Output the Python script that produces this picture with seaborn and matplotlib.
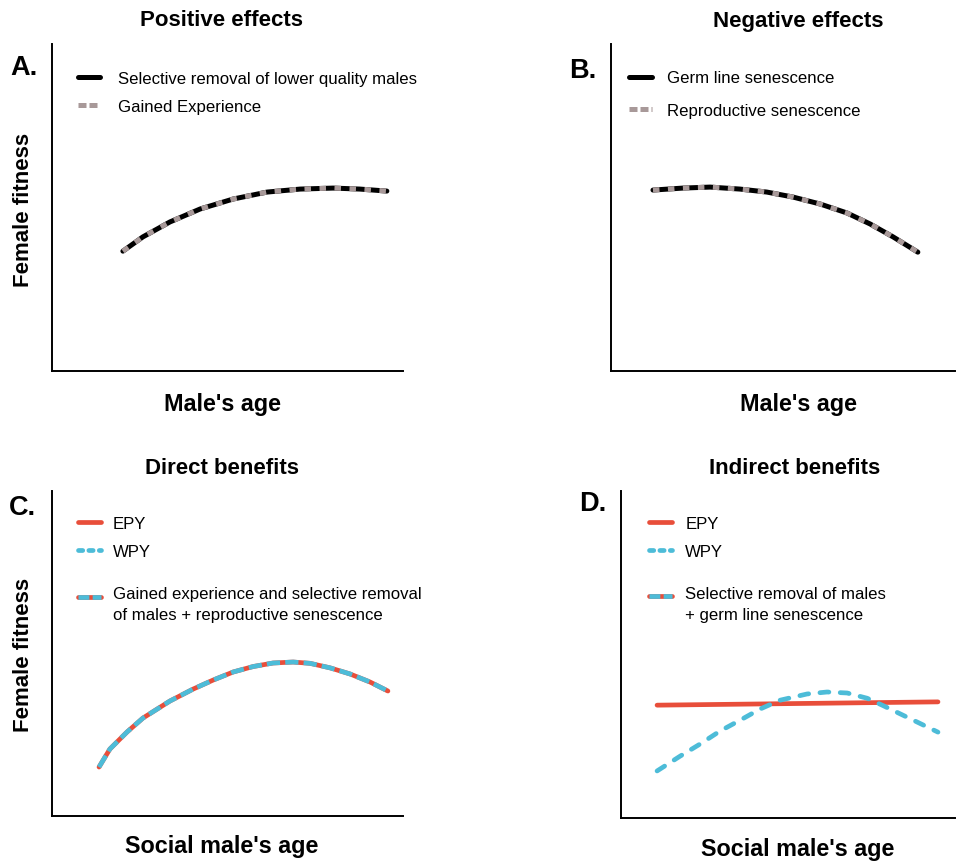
import matplotlib
matplotlib.use("Agg")
import matplotlib.pyplot as plt
import seaborn as sns
import pandas as pd
from matplotlib.lines import Line2D
from matplotlib.legend_handler import HandlerTuple

sns.set_theme(style="white")
plt.rcParams['font.family'] = ['Liberation Sans', 'DejaVu Sans']
plt.rcParams['text.color'] = 'black'

# ---------------- data (arbitrary "fitness" units, age 0-10) ----------------
a_age = [2.02, 2.59, 3.36, 4.22, 5.16, 6.13, 7.07, 8.01, 8.77, 9.54]
a_fit = [3.61, 4.04, 4.49, 4.88, 5.18, 5.39, 5.48, 5.51, 5.48, 5.42]

b_age = [1.22, 2.09, 2.88, 3.75, 4.53, 5.29, 6.08, 6.86, 7.53, 8.20, 8.92]
b_fit = [5.45, 5.51, 5.54, 5.48, 5.39, 5.24, 5.03, 4.76, 4.43, 4.04, 3.58]

c_age = [1.34, 1.65, 2.14, 2.59, 3.36, 4.02, 4.59, 5.16, 5.73, 6.30, 6.87,
         7.35, 7.92, 8.49, 9.06, 9.57]
c_fit = [1.52, 2.08, 2.61, 3.04, 3.57, 3.94, 4.22, 4.47, 4.64, 4.75, 4.78,
         4.74, 4.60, 4.41, 4.16, 3.88]

d_epy_age = [1.08, 9.49]
d_epy_fit = [3.43, 3.53]
d_wpy_age = [1.08, 1.77, 2.37, 2.96, 3.65, 4.16, 4.76, 5.57, 6.17, 6.77,
             7.37, 7.84, 8.35, 8.86, 9.49]
d_wpy_fit = [1.43, 1.88, 2.25, 2.64, 3.02, 3.31, 3.58, 3.77, 3.83, 3.80,
             3.64, 3.42, 3.17, 2.92, 2.61]

titles = ["Positive effects", "Negative effects", "Direct benefits", "Indirect benefits"]
letters = ["A.", "B.", "C.", "D."]
xlabels = ["Male's age", "Male's age", "Social male's age", "Social male's age"]
ylabel = "Female fitness"
leg_a = ["Selective removal of lower quality males", "Gained Experience"]
leg_b = ["Germ line senescence", "Reproductive senescence"]
leg_c = ["EPY", "WPY", "Gained experience and selective removal\nof males + reproductive senescence"]
leg_d = ["EPY", "WPY", "Selective removal of males\n+ germ line senescence"]

BLACK = "#000000"
GRAY = "#a89999"
RED = "#e84e3a"
CYAN = "#4dbcd8"

W, H = 957, 862
fig = plt.figure(figsize=(W / 100, H / 100), dpi=100)


def add_ax(l, t, r, b):
    return fig.add_axes([l / W, 1 - b / H, (r - l) / W, (b - t) / H])


axA = add_ax(52, 45, 403, 372)
axB = add_ax(611, 45, 955, 372)
axC = add_ax(52, 492, 403, 817)
axD = add_ax(621, 492, 955, 819)

ytops = [9.85, 9.85, 10.09, 9.94]
for ax, yt in zip((axA, axB, axC, axD), ytops):
    ax.set_xlim(0, 10)
    ax.set_ylim(0, yt)
    ax.set_xticks([])
    ax.set_yticks([])
    for s in ("top", "right"):
        ax.spines[s].set_visible(False)
    for s in ("left", "bottom"):
        ax.spines[s].set_color("black")
        ax.spines[s].set_linewidth(1.4)

LW = 3.6
LW2 = 3.4

dfA = pd.DataFrame({"age": a_age, "fit": a_fit})
sns.lineplot(data=dfA, x="age", y="fit", ax=axA, color=BLACK, lw=LW)
sns.lineplot(data=dfA, x="age", y="fit", ax=axA, color=GRAY, lw=LW,
             linestyle=(0, (1.3, 1.7)))

dfB = pd.DataFrame({"age": b_age, "fit": b_fit})
sns.lineplot(data=dfB, x="age", y="fit", ax=axB, color=BLACK, lw=LW)
sns.lineplot(data=dfB, x="age", y="fit", ax=axB, color=GRAY, lw=LW,
             linestyle=(0, (1.3, 1.7)))

dfC = pd.DataFrame({"age": c_age, "fit": c_fit})
sns.lineplot(data=dfC, x="age", y="fit", ax=axC, color=RED, lw=LW2)
sns.lineplot(data=dfC, x="age", y="fit", ax=axC, color=CYAN, lw=LW2,
             linestyle=(0, (2.8, 1.1)))

dfDe = pd.DataFrame({"age": d_epy_age, "fit": d_epy_fit})
dfDw = pd.DataFrame({"age": d_wpy_age, "fit": d_wpy_fit})
sns.lineplot(data=dfDe, x="age", y="fit", ax=axD, color=RED, lw=LW2,
             solid_capstyle="round")
sns.lineplot(data=dfDw, x="age", y="fit", ax=axD, color=CYAN, lw=LW2,
             linestyle=(0, (1.9, 2.4)), dash_capstyle="round")

for ax in (axA, axB, axC, axD):
    ax.set_xlabel("")
    ax.set_ylabel("")

# ---------------- legends ----------------
LFS = 12.1


def gray_handles():
    return [Line2D([], [], color=BLACK, lw=LW, solid_capstyle="round"),
            Line2D([], [], color=GRAY, lw=LW, linestyle=(0, (1.6, 0.6)),
                   dash_capstyle="butt")]


axA.legend(gray_handles(), leg_a, loc="upper left", bbox_to_anchor=(0.074, 0.917),
           frameon=False, fontsize=LFS, handlelength=1.31, handletextpad=1.07,
           labelspacing=0.74, borderpad=0, borderaxespad=0)

axB.legend(gray_handles(), leg_b, loc="upper left", bbox_to_anchor=(0.052, 0.919),
           frameon=False, fontsize=LFS, handlelength=1.37, handletextpad=0.9,
           labelspacing=1.02, borderpad=0, borderaxespad=0)


class UpHandler(HandlerTuple):
    def __init__(self, shift, **kw):
        super().__init__(**kw)
        self.shift = shift

    def create_artists(self, legend, orig_handle, xdescent, ydescent, width,
                       height, fontsize, trans):
        return super().create_artists(legend, orig_handle, xdescent,
                                      ydescent - self.shift, width, height,
                                      fontsize, trans)


def two_legends(ax, labels, x0, top1, top2, tpad):
    first = [Line2D([], [], color=RED, lw=LW2, solid_capstyle="round"),
             Line2D([], [], color=CYAN, lw=LW2, linestyle=(0, (0.9, 1.3)),
                    dash_capstyle="round")]
    combo = (Line2D([], [], color=RED, lw=LW2),
             Line2D([], [], color=CYAN, lw=LW2, linestyle=(0, (2.3, 0.7))))
    l1 = ax.legend(first, labels[:2], loc="upper left",
                   bbox_to_anchor=(x0, top1), frameon=False, fontsize=LFS,
                   handlelength=1.37, handletextpad=tpad, labelspacing=0.76,
                   borderpad=0, borderaxespad=0)
    ax.add_artist(l1)
    l2 = ax.legend([combo], [labels[2]], loc="upper left",
                   bbox_to_anchor=(x0, top2), frameon=False, fontsize=LFS,
                   handlelength=1.37, handletextpad=tpad, borderpad=0,
                   borderaxespad=0,
                   handler_map={tuple: UpHandler(10.5, ndivide=1, pad=0)})
    for t in l2.get_texts():
        t.set_linespacing(1.52)
    return l1, l2


two_legends(axC, leg_c, 0.074, 0.923, 0.707, 0.72)
two_legends(axD, leg_d, 0.084, 0.923, 0.711, 0.78)

# ---------------- texts ----------------
title_pos = [(222, 21), (798, 21), (222, 469), (795, 469)]
for t, (x, y) in zip(titles, title_pos):
    fig.text(x / W, 1 - y / H, t, ha="center", va="center", fontsize=16,
             fontweight="bold")

letter_pos = [(10, 68), (569, 71), (9, 508), (579, 504)]
for t, (x, y) in zip(letters, letter_pos):
    fig.text(x / W, 1 - y / H, t, ha="left", va="center", fontsize=19.5,
             fontweight="bold")

xl_pos = [(222, 405), (798, 405), (222, 847), (798, 850)]
for t, (x, y) in zip(xlabels, xl_pos):
    fig.text(x / W, 1 - y / H, t, ha="center", va="center", fontsize=16.8,
             fontweight="bold")

for (x, y) in [(24, 210), (24, 655)]:
    fig.text(x / W, 1 - y / H, ylabel, ha="center", va="center", fontsize=16,
             fontweight="bold", rotation=90)

fig.savefig("out.png", dpi=100)
